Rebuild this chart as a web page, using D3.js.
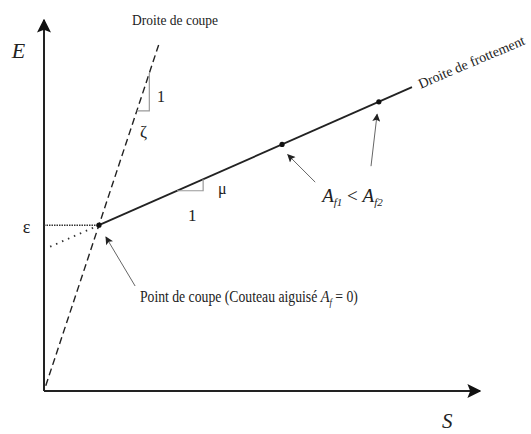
<!DOCTYPE html>
<html>
<head>
<meta charset="utf-8">
<script src="https://cdn.jsdelivr.net/npm/d3@7"></script>
<style>
  body { margin: 0; background: #fff; }
  svg { display: block; }
  svg text { font-family: "Liberation Serif", "Times New Roman", "DejaVu Serif", serif; }
</style>
</head>
<body>
<div id="chart"></div>
<script>
// values, in S / E units (0..100)
const cutPoint = [12.6, 44.7];          // point de coupe (S, E)
const zetaTopE = 94.1;                  // top of the dashed "droite de coupe"
const mu = 0.518;                       // slope of friction line
const frictionEndS = 84.4;
const frictionDotsS = [54.6, 76.8];     // A_f1, A_f2
const dottedStartS = 1.4;
const zetaTriangleE = [75.5, 85.7];
const muTriangleS = [30.5, 36.5];

const width = 531, height = 434;

const x = d3.scaleLinear().domain([0, 100]).range([44, 480]);
const y = d3.scaleLinear().domain([0, 100]).range([391, 20]);

const zeta = cutPoint[1] / cutPoint[0];
const fE = s => cutPoint[1] + mu * (s - cutPoint[0]);
const cutS = e => e / zeta;

const svg = d3.select("#chart").append("svg")
    .attr("width", width)
    .attr("height", height);

const defs = svg.append("defs");
defs.append("marker")
    .attr("id", "axisHead")
    .attr("viewBox", "0 0 10 10")
    .attr("refX", 9).attr("refY", 5)
    .attr("markerWidth", 7).attr("markerHeight", 7)
    .attr("markerUnits", "strokeWidth")
    .attr("orient", "auto")
    .append("path").attr("d", "M0,0 L10,5 L0,10 L2,5 Z").attr("fill", "#111");
defs.append("marker")
    .attr("id", "noteHead")
    .attr("viewBox", "0 0 10 10")
    .attr("refX", 9).attr("refY", 5)
    .attr("markerWidth", 9).attr("markerHeight", 8)
    .attr("markerUnits", "strokeWidth")
    .attr("orient", "auto")
    .append("path").attr("d", "M0,0 L10,5 L0,10 L2,5 Z").attr("fill", "#222");

const line = d3.line().x(d => x(d[0])).y(d => y(d[1]));

// axes
svg.append("path")
    .attr("d", line([[0, 0], [0, 100]]))
    .attr("stroke", "#222").attr("stroke-width", 2).attr("fill", "none")
    .attr("marker-end", "url(#axisHead)");
svg.append("path")
    .attr("d", line([[0, 0], [100, 0]]))
    .attr("stroke", "#222").attr("stroke-width", 2).attr("fill", "none")
    .attr("marker-end", "url(#axisHead)");

// dashed cutting line
svg.append("path")
    .attr("d", line([[0.4, 0.4 * zeta], [cutS(zetaTopE), zetaTopE]]))
    .attr("stroke", "#222").attr("stroke-width", 1.4).attr("fill", "none")
    .attr("stroke-dasharray", "7,4");

// horizontal dotted line at epsilon
svg.append("path")
    .attr("d", line([[0, cutPoint[1]], cutPoint]))
    .attr("stroke", "#333").attr("stroke-width", 1.5).attr("fill", "none")
    .attr("stroke-dasharray", "1.5,1");

// dotted extension of friction line
svg.append("path")
    .attr("d", line([[dottedStartS, fE(dottedStartS)], [cutPoint[0] - 1, fE(cutPoint[0] - 1)]]))
    .attr("stroke", "#333").attr("stroke-width", 1.8).attr("fill", "none")
    .attr("stroke-dasharray", "1.5,5");

// friction line
svg.append("path")
    .attr("d", line([cutPoint, [frictionEndS, fE(frictionEndS)]]))
    .attr("stroke", "#222").attr("stroke-width", 1.8).attr("fill", "none");

// slope triangles
const zl = zetaTriangleE[0], zh = zetaTriangleE[1];
svg.append("path")
    .attr("d", line([[cutS(zl), zl], [cutS(zh), zl], [cutS(zh), zh]]))
    .attr("stroke", "#999").attr("stroke-width", 1.2).attr("fill", "none");
const ml = muTriangleS[0], mh = muTriangleS[1];
svg.append("path")
    .attr("d", line([[ml, fE(ml)], [mh, fE(ml)], [mh, fE(mh)]]))
    .attr("stroke", "#999").attr("stroke-width", 1.2).attr("fill", "none");

// points
svg.selectAll("circle.pt")
    .data([cutPoint[0]].concat(frictionDotsS))
    .join("circle")
    .attr("class", "pt")
    .attr("cx", d => x(d)).attr("cy", d => y(fE(d)))
    .attr("r", 2.6).attr("fill", "#111");

// annotation arrows
const notes = [
    [[20.9, 28.3], [14.2, 41.5]],
    [[62.2, 56.3], [55.9, 63.7]],
    [[75.0, 60.6], [76.4, 74.6]]
];
svg.selectAll("path.note")
    .data(notes)
    .join("path")
    .attr("class", "note")
    .attr("d", d => line(d))
    .attr("stroke", "#666").attr("stroke-width", 1).attr("fill", "none")
    .attr("marker-end", "url(#noteHead)");

// labels
function label(s, e, txt, size, opts = {}) {
    const t = svg.append("text")
        .attr("x", x(s)).attr("y", y(e))
        .attr("font-size", size)
        .attr("fill", "#222")
        .text(txt);
    if (opts.italic) t.attr("font-style", "italic");
    if (opts.len) t.attr("textLength", opts.len).attr("lengthAdjust", "spacingAndGlyphs");
    return t;
}

label(-7.4, 89.8, "E", 22, { italic: true });
label(91.3, -10.0, "S", 21, { italic: true });
label(-4.9, 42.5, "ε", 18);
label(20.2, 98.7, "Droite de coupe", 15.5, { len: 86 });
label(25.9, 78.0, "1", 16);
label(22.0, 68.5, "ζ", 17);
label(39.9, 53.2, "μ", 16);
label(33.0, 45.9, "1", 17);

// A_f1 < A_f2
const af = svg.append("text")
    .attr("x", x(63.8)).attr("y", y(50.9))
    .attr("font-size", 19).attr("fill", "#222");
af.append("tspan").attr("font-style", "italic").text("A");
af.append("tspan").attr("font-style", "italic").attr("font-size", 11).attr("dy", 4).text("f1");
af.append("tspan").attr("dy", -4).text(" < ");
af.append("tspan").attr("font-style", "italic").text("A");
af.append("tspan").attr("font-style", "italic").attr("font-size", 11).attr("dy", 4).text("f2");

// point de coupe label
const pc = svg.append("text")
    .attr("x", x(22.0)).attr("y", y(24.0))
    .attr("font-size", 16).attr("fill", "#222")
    .attr("textLength", 218).attr("lengthAdjust", "spacingAndGlyphs");
pc.append("tspan").text("Point de coupe (Couteau aiguisé ");
pc.append("tspan").attr("font-style", "italic").attr("font-size", 17).text("A");
pc.append("tspan").attr("font-style", "italic").attr("font-size", 10).attr("dy", 4).text("f");
pc.append("tspan").attr("dy", -4).text(" = 0)");

// rotated friction line label
svg.append("text")
    .attr("transform", `translate(${x(86.4)},${y(81.5)}) rotate(-23)`)
    .attr("font-size", 14).attr("fill", "#222")
    .text("Droite de frottement");
</script>
</body>
</html>
